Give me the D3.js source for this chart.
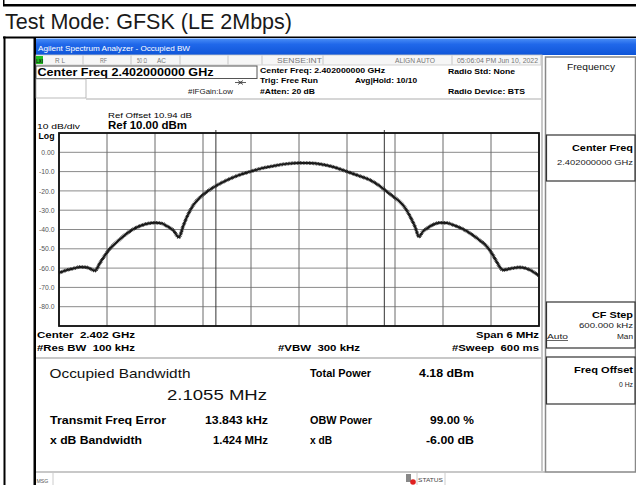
<!DOCTYPE html>
<html>
<head>
<meta charset="utf-8">
<script src="https://cdn.jsdelivr.net/npm/d3@7"></script>
<style>
  html, body { margin: 0; padding: 0; background: #fff; }
  svg { display: block; font-family: "Liberation Sans", Arial, sans-serif; }
  svg text { white-space: pre; }
</style>
</head>
<body>
<div id="chart"></div>
<script>
// trace: offset from centre (MHz) and level (dBm)
var freqMHz = [-3.00, -2.90, -2.80, -2.74, -2.66, -2.61, -2.55, -2.49, -2.42, -2.36, -2.25, -2.15, -2.07, -1.99, -1.90, -1.80, -1.72, -1.65, -1.57, -1.50,
  -1.45, -1.40, -1.32, -1.24, -1.15, -1.03, -0.90, -0.75, -0.61, -0.46, -0.32, -0.16, 0.00, 0.13, 0.26, 0.43, 0.60, 0.75, 0.89, 1.00, 1.10, 1.18, 1.26,
  1.33, 1.39, 1.45, 1.50, 1.55, 1.60, 1.68, 1.76, 1.85, 1.93, 2.04, 2.14, 2.25, 2.35, 2.42, 2.47, 2.55, 2.65, 2.76, 2.89, 3.00];
var powerDbm = [-62.5, -61.0, -60.0, -59.4, -59.6, -60.3, -61.3, -57.5, -53.0, -49.8, -45.5, -42.0, -39.8, -38.2, -37.0, -36.5, -36.8, -38.3, -40.5, -44.0,
  -38.5, -33.4, -27.3, -23.5, -20.4, -17.2, -14.4, -11.8, -10.0, -8.2, -7.1, -6.0, -5.5, -5.6, -6.1, -7.6, -10.0, -12.2, -14.4, -17.2, -20.4, -23.0, -25.6,
  -29.0, -33.4, -38.5, -43.7, -41.0, -39.4, -37.4, -36.5, -36.6, -37.7, -39.6, -42.0, -45.3, -48.9, -53.0, -56.7, -61.0, -60.2, -59.6, -61.0, -64.0];

var yTicks = [0, -10, -20, -30, -40, -50, -60, -70, -80];
var yTickLabels = ['0.00', '-10.0', '-20.0', '-30.0', '-40.0', '-50.0', '-60.0', '-70.0', '-80.0'];
var xGrid = [-3.0, -2.4, -1.8, -1.2, -0.6, 0.0, 0.6, 1.2, 1.8, 2.4, 3.0];
var yGrid = [10, 0, -10, -20, -30, -40, -50, -60, -70, -80, -90];

var obwMHz = 2.1055;
var freqErrMHz = 0.013843;

var statusItems = [
  {t: 'R L', x: 55, len: 10}, {t: 'RF', x: 100, len: 7}, {t: '50 \u03A9', x: 137, len: 10}, {t: 'AC', x: 157, len: 9},
  {t: 'SENSE:INT', x: 277, len: 45}, {t: 'ALIGN AUTO', x: 395, len: 40}, {t: '05:06:04 PM Jun 10, 2022', x: 457, len: 81}
];
var statusSeps = [83, 131, 180, 228, 262, 323, 452, 541];

var results = [
  {label: 'Transmit Freq Error', len: 116, value: '13.843 kHz', vlen: 63, label2: 'OBW Power', len2: 62, value2: '99.00 %', vlen2: 44, y: 424},
  {label: 'x dB Bandwidth', len: 92, value: '1.424 MHz', vlen: 55, label2: 'x dB', len2: 0, value2: '-6.00 dB', vlen2: 48, y: 444}
];

var W = 636, H = 485;
var svg = d3.select('#chart').append('svg').attr('width', W).attr('height', H);

function txt(x, y, s, size, opts) {
  opts = opts || {};
  var t = svg.append('text')
    .attr('x', x).attr('y', y)
    .attr('font-size', size)
    .attr('font-weight', opts.bold ? 'bold' : 'normal')
    .attr('fill', opts.fill || '#000')
    .attr('text-anchor', opts.anchor || 'start')
    .text(s);
  if (opts.len) t.attr('textLength', opts.len).attr('lengthAdjust', 'spacingAndGlyphs');
  return t;
}

// border of the cell above and the page title
svg.append('rect').attr('x', 3).attr('y', 4).attr('width', W - 3).attr('height', 2.5).attr('fill', '#000');
svg.append('rect').attr('x', 3).attr('y', 0).attr('width', 1.5).attr('height', 6).attr('fill', '#000');
txt(5, 28.5, 'Test Mode: GFSK (LE 2Mbps)', 21.4, {fill: '#1a1a1a', len: 287});

// cell frame
svg.append('rect').attr('x', 3).attr('y', 36.5).attr('width', W - 3).attr('height', 2).attr('fill', '#000');
svg.append('rect').attr('x', 3.5).attr('y', 36.5).attr('width', 2).attr('height', H - 36).attr('fill', '#000');

// screenshot background
svg.append('rect').attr('x', 36).attr('y', 38).attr('width', W - 36).attr('height', H - 38).attr('fill', '#fff');
svg.append('rect').attr('x', 33.5).attr('y', 37).attr('width', 2.5).attr('height', H - 37).attr('fill', '#000');

// title bar
var defs = svg.append('defs');
var grad = defs.append('linearGradient').attr('id', 'tbar').attr('x1', 0).attr('x2', 0).attr('y1', 0).attr('y2', 1);
grad.append('stop').attr('offset', '0%').attr('stop-color', '#4a8ef6');
grad.append('stop').attr('offset', '35%').attr('stop-color', '#2068ea');
grad.append('stop').attr('offset', '100%').attr('stop-color', '#0f55d8');
svg.append('rect').attr('x', 36).attr('y', 38.5).attr('width', W - 36).attr('height', 16.5).attr('fill', 'url(#tbar)');
txt(38, 50.5, 'Agilent Spectrum Analyzer - Occupied BW', 7.6, {fill: '#fff', len: 152});

// status row
svg.append('rect').attr('x', 36).attr('y', 55).attr('width', 506).attr('height', 10).attr('fill', '#f6f6f6')
  .attr('stroke', '#c8c8c8').attr('stroke-width', 0.8);
svg.append('rect').attr('x', 36).attr('y', 56).attr('width', 7).attr('height', 8).attr('fill', '#22c022');
txt(36.3, 62.5, 'LXI', 5, {bold: true, fill: '#111', len: 6.5});
statusSeps.forEach(function(x) {
  svg.append('line').attr('x1', x).attr('x2', x).attr('y1', 55.5).attr('y2', 64.5).attr('stroke', '#bbb').attr('stroke-width', 0.8);
});
statusItems.forEach(function(d) {
  txt(d.x, 62.8, d.t, 6.4, {fill: '#777', len: d.len});
});

// setup info block
svg.append('rect').attr('x', 36).attr('y', 66).attr('width', 221).attr('height', 12.5).attr('fill', '#fff')
  .attr('stroke', '#555').attr('stroke-width', 1);
txt(37.5, 76, 'Center Freq 2.402000000 GHz', 10.8, {bold: true, len: 176});
svg.append('rect').attr('x', 36).attr('y', 79).attr('width', 50).attr('height', 19).attr('fill', '#fff')
  .attr('stroke', '#aaa').attr('stroke-width', 0.8);
txt(260, 73, 'Center Freq: 2.402000000 GHz', 7.4, {bold: true, len: 125});
txt(260, 83, 'Trig: Free Run', 7.4, {bold: true, len: 58});
txt(260, 93.5, '#Atten: 20 dB', 7.4, {bold: true, len: 55});
txt(355, 83, 'Avg|Hold: 10/10', 7.4, {bold: true, len: 62});
txt(448, 74, 'Radio Std: None', 7.4, {bold: true, len: 67});
txt(448, 94, 'Radio Device: BTS', 7.4, {bold: true, len: 77});
txt(188, 94, '#IFGain:Low', 6.6, {fill: '#222', len: 45});
svg.append('path').attr('d', 'M235,82.5 H246 M238,80.5 L241,82.5 L238,84.5 M243,80.5 L240,82.5 L243,84.5')
  .attr('stroke', '#333').attr('stroke-width', 0.8).attr('fill', 'none');
svg.append('line').attr('x1', 86).attr('x2', 542).attr('y1', 99).attr('y2', 99).attr('stroke', '#c8c8c8').attr('stroke-width', 1.5);
svg.append('line').attr('x1', 542).attr('x2', 542).attr('y1', 55).attr('y2', 472).attr('stroke', '#c8c8c8').attr('stroke-width', 2);

// plot
var plotL = 59, plotR = 539, plotT = 133, plotB = 326;
var x = d3.scaleLinear().domain([-3, 3]).range([plotL, plotR]);
var y = d3.scaleLinear().domain([10, -90]).range([plotT, plotB]);

txt(108, 118, 'Ref Offset 10.94 dB', 8, {len: 84});
txt(37, 128.5, '10 dB/div', 8, {len: 43});
txt(108, 128.5, 'Ref 10.00 dBm', 10, {bold: true, len: 79});
txt(38.5, 139, 'Log', 8.4, {bold: true, len: 16});

var g = svg.append('g');
g.selectAll('line.hg').data(yGrid).enter().append('line')
  .attr('x1', plotL).attr('x2', plotR)
  .attr('y1', function(d) { return y(d); }).attr('y2', function(d) { return y(d); })
  .attr('stroke', '#8a8a8a').attr('stroke-width', 1);
g.selectAll('line.vg').data(xGrid).enter().append('line')
  .attr('x1', function(d) { return x(d); }).attr('x2', function(d) { return x(d); })
  .attr('y1', plotT).attr('y2', plotB)
  .attr('stroke', '#6a6a6a').attr('stroke-width', 1);

// occupied bandwidth markers
[freqErrMHz - obwMHz / 2, freqErrMHz + obwMHz / 2].forEach(function(f) {
  g.append('line').attr('x1', x(f)).attr('x2', x(f)).attr('y1', plotT - 3).attr('y2', plotB)
    .attr('stroke', '#333').attr('stroke-width', 1);
});

var yAxis = d3.axisLeft(y).tickValues(yTicks).tickSize(0).tickPadding(4)
  .tickFormat(function(d, i) { return yTickLabels[i]; });
var ya = svg.append('g').attr('transform', 'translate(' + (plotL - 0.5) + ',0)').call(yAxis);
ya.select('.domain').remove();
ya.selectAll('text').attr('font-size', 6.8).attr('fill', '#555').attr('font-family', '"Liberation Sans", Arial, sans-serif');

var line = d3.line()
  .x(function(d, i) { return x(freqMHz[i]); })
  .y(function(d) { return y(d); })
  .curve(d3.curveMonotoneX);
g.append('path').datum(powerDbm).attr('d', line)
  .attr('fill', 'none').attr('stroke', '#111').attr('stroke-width', 2);
g.append('path').datum(powerDbm).attr('d', line)
  .attr('fill', 'none').attr('stroke', '#222').attr('stroke-width', 3.6).attr('stroke-dasharray', '0.8,0.7');

svg.append('rect').attr('x', plotL).attr('y', plotT).attr('width', plotR - plotL).attr('height', plotB - plotT)
  .attr('fill', 'none').attr('stroke', '#111').attr('stroke-width', 1.8);

txt(37, 337.5, 'Center  2.402 GHz', 9.4, {bold: true, len: 98});
txt(37, 350.5, '#Res BW  100 kHz', 9.4, {bold: true, len: 98});
txt(278, 350.5, '#VBW  300 kHz', 9.4, {bold: true, len: 82});
txt(539, 337.5, 'Span 6 MHz', 9.4, {bold: true, anchor: 'end', len: 63});
txt(539, 350.5, '#Sweep  600 ms', 9.4, {bold: true, anchor: 'end', len: 87});

// results panel
svg.append('line').attr('x1', 36).attr('x2', 542).attr('y1', 358).attr('y2', 358).attr('stroke', '#c8c8c8').attr('stroke-width', 2.2);
svg.append('line').attr('x1', 36).attr('x2', 545).attr('y1', 472).attr('y2', 472).attr('stroke', '#c8c8c8').attr('stroke-width', 2);
txt(49.5, 378, 'Occupied Bandwidth', 12.2, {fill: '#111', len: 141});
txt(267, 400, '2.1055 MHz', 15.2, {anchor: 'end', fill: '#111', len: 100});
txt(310, 377, 'Total Power', 10.2, {bold: true, len: 61});
txt(474, 377, '4.18 dBm', 10.2, {bold: true, anchor: 'end', len: 55});
results.forEach(function(r) {
  txt(50, r.y, r.label, 10.2, {bold: true, len: r.len});
  txt(268, r.y, r.value, 10.2, {bold: true, anchor: 'end', len: r.vlen});
  txt(310, r.y, r.label2, 10.2, {bold: true, len: r.len2});
  txt(474, r.y, r.value2, 10.2, {bold: true, anchor: 'end', len: r.vlen2});
});

// message bar
txt(36.5, 482.5, 'MSG', 5.2, {fill: '#555'});
svg.append('line').attr('x1', 53).attr('x2', 53).attr('y1', 473).attr('y2', 485).attr('stroke', '#ccc');
svg.append('line').attr('x1', 417).attr('x2', 417).attr('y1', 473).attr('y2', 485).attr('stroke', '#ccc');
svg.append('line').attr('x1', 445).attr('x2', 445).attr('y1', 473).attr('y2', 485).attr('stroke', '#ccc');
svg.append('rect').attr('x', 406).attr('y', 474).attr('width', 5).attr('height', 8).attr('fill', '#888');
svg.append('circle').attr('cx', 413).attr('cy', 482).attr('r', 2.8).attr('fill', '#e02020');
txt(418, 482, 'STATUS', 5.6, {fill: '#444', len: 25});

// softkey panel
svg.append('rect').attr('x', 545.5).attr('y', 57).attr('width', 90).attr('height', 415).attr('fill', '#fff')
  .attr('stroke', '#888').attr('stroke-width', 1.5);
txt(591, 69.5, 'Frequency', 9, {anchor: 'middle', fill: '#111', len: 48});
var keys = [
  {y0: 135, y1: 181, title: 'Center Freq', tlen: 61, sub: '2.402000000 GHz', slen: 76},
  {y0: 302, y1: 348, title: 'CF Step', tlen: 41, sub: '600.000 kHz', slen: 54},
  {y0: 357, y1: 404, title: 'Freq Offset', tlen: 59, sub: '0 Hz', slen: 14}
];
keys.forEach(function(k) {
  svg.append('rect').attr('x', 546.5).attr('y', k.y0).attr('width', 88.5).attr('height', k.y1 - k.y0)
    .attr('fill', '#fff').attr('stroke', '#333').attr('stroke-width', 1.2);
  txt(633, k.y0 + 16, k.title, 9.8, {bold: true, anchor: 'end', len: k.tlen});
  txt(633, k.y0 + (k.title == 'CF Step' ? 25.5 : 30), k.sub, 8, {anchor: 'end', fill: '#222', len: k.slen});
});
txt(547, 339, 'Auto', 8, {fill: '#222', len: 21});
svg.append('line').attr('x1', 547).attr('x2', 568).attr('y1', 340.5).attr('y2', 340.5).attr('stroke', '#222').attr('stroke-width', 0.7);
txt(633, 339, 'Man', 8, {anchor: 'end', fill: '#222', len: 16});
</script>
</body>
</html>
